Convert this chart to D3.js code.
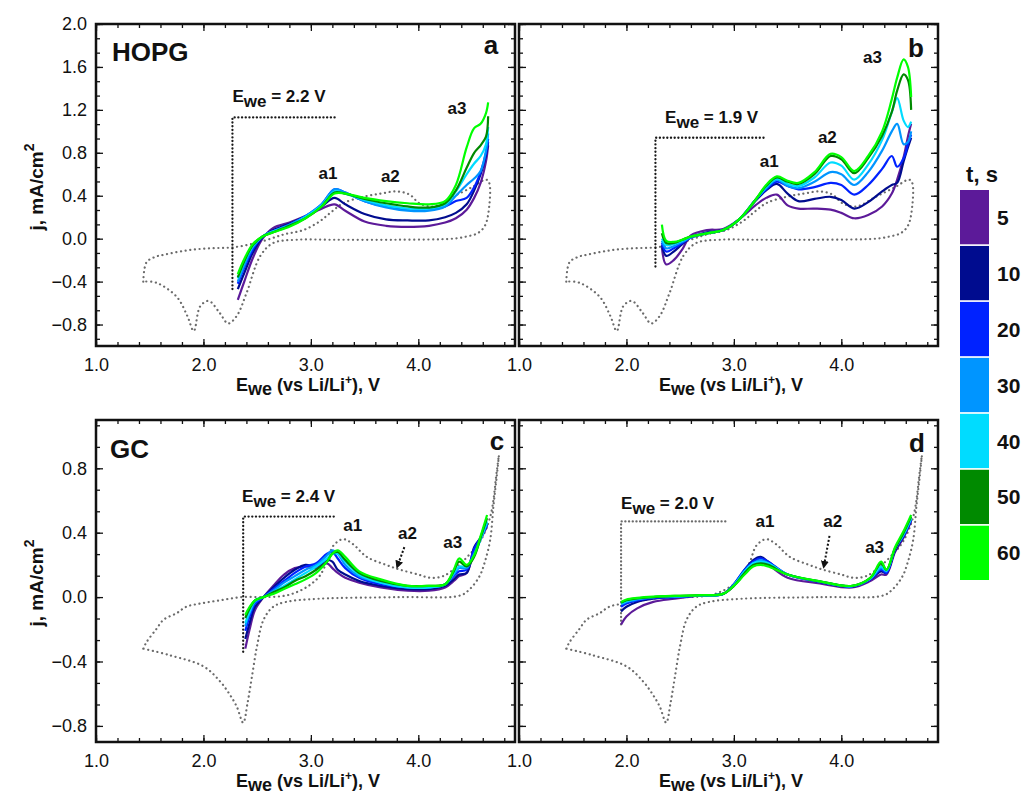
<!DOCTYPE html>
<html>
<head>
<meta charset="utf-8">
<title>CV HOPG / GC</title>
<script src="https://cdn.jsdelivr.net/npm/d3@7"></script>
<style>
  body { margin: 0; background: #fff; }
  svg { font-family: 'Liberation Sans', Arial, sans-serif; }
  .tick line { stroke: #111; stroke-width: 1.3; }
  .tick text { font-size: 18px; fill: #111; }
  .bold { font-weight: bold; fill: #111; }
</style>
</head>
<body>
<svg id="fig" width="1026" height="796"></svg>
<script>
// hold times and their colours
const times = [5, 10, 20, 30, 40, 50, 60];
const colors = ['#5c1a99', '#000c8f', '#0022ff', '#0095ff', '#00dcff', '#008a00', '#00ff00'];

// tick labels
const xLabels = [1.0, 2.0, 3.0, 4.0];
const yLabelsTop = [-0.8, -0.4, 0.0, 0.4, 0.8, 1.2, 1.6, 2.0];
const yLabelsBottom = [-0.8, -0.4, 0.0, 0.4, 0.8];

// reference CV of HOPG (dotted, panels a and b)
const cvHopgE = [1.44, 1.47, 1.55, 1.63, 1.84, 2.05, 2.28, 2.53, 2.75, 2.93, 3.08, 3.18, 3.3, 3.49, 3.65, 3.80, 3.92, 4.01, 4.14, 4.32, 4.5, 4.63, 4.66, 4.66, 4.62, 4.55, 4.45, 4.32, 3.8, 3.2, 2.87, 2.65, 2.53, 2.40, 2.31, 2.23, 2.15, 2.05, 1.97, 1.91, 1.85, 1.75, 1.56, 1.44];
const cvHopgJ = [-0.40, -0.22, -0.17, -0.15, -0.11, -0.09, -0.08, -0.03, 0.04, 0.08, 0.16, 0.24, 0.33, 0.39, 0.42, 0.44, 0.41, 0.33, 0.30, 0.39, 0.48, 0.55, 0.52, 0.30, 0.12, 0.05, 0.02, 0.0, -0.01, -0.01, -0.01, -0.04, -0.16, -0.51, -0.72, -0.79, -0.69, -0.58, -0.63, -0.86, -0.72, -0.54, -0.41, -0.40];

// reference CV of GC (dotted, panels c and d)
const cvGcE = [1.44, 1.47, 1.56, 1.63, 1.75, 1.84, 1.97, 2.15, 2.36, 2.59, 2.77, 2.90, 3.0, 3.08, 3.15, 3.21, 3.30, 3.39, 3.52, 3.7, 3.83, 4.0, 4.11, 4.23, 4.36, 4.47, 4.57, 4.67, 4.73, 4.75, 4.73, 4.70, 4.67, 4.62, 4.57, 4.48, 4.39, 3.83, 3.08, 2.77, 2.65, 2.56, 2.50, 2.45, 2.41, 2.37, 2.31, 2.24, 2.15, 2.0, 1.68, 1.44];
const cvGcJ = [-0.32, -0.28, -0.20, -0.14, -0.10, -0.06, -0.04, -0.02, 0.0, 0.0, 0.01, 0.04, 0.08, 0.13, 0.22, 0.32, 0.36, 0.33, 0.25, 0.20, 0.17, 0.14, 0.12, 0.13, 0.19, 0.26, 0.34, 0.50, 0.78, 0.88, 0.75, 0.57, 0.36, 0.22, 0.13, 0.05, 0.01, 0.0, -0.01, -0.03, -0.06, -0.14, -0.30, -0.50, -0.66, -0.78, -0.68, -0.60, -0.52, -0.43, -0.36, -0.32];

// potential step traces (E, j)
const stepA = [[2.27, -0.47], [2.27, 1.13], [3.25, 1.13]];
const stepB = [[2.27, -0.26], [2.27, 0.94], [3.28, 0.94]];
const stepC = [[2.37, -0.34], [2.37, 0.50], [3.22, 0.50]];
const stepD = [[1.95, -0.17], [1.95, 0.47], [2.93, 0.47]];

// panel a: HOPG, E_we = 2.2 V  (rows: 5,10,20,30,40,50,60 s)
const eA = [2.32, 2.38, 2.46, 2.55, 2.65, 2.8, 2.95, 3.1, 3.22, 3.32, 3.5, 3.7, 3.9, 4.1, 4.25, 4.35, 4.45, 4.52, 4.58, 4.63, 4.65];
const jA = [
  [-0.57, -0.40, -0.18, 0.00, 0.10, 0.15, 0.21, 0.28, 0.32, 0.26, 0.16, 0.12, 0.11, 0.12, 0.15, 0.19, 0.27, 0.38, 0.52, 0.72, 0.87],
  [-0.47, -0.32, -0.13, 0.01, 0.08, 0.14, 0.21, 0.30, 0.38, 0.32, 0.23, 0.18, 0.17, 0.17, 0.20, 0.24, 0.32, 0.45, 0.60, 0.78, 0.90],
  [-0.42, -0.27, -0.10, 0.02, 0.07, 0.13, 0.21, 0.32, 0.46, 0.43, 0.35, 0.30, 0.27, 0.27, 0.30, 0.35, 0.38, 0.48, 0.62, 0.80, 0.93],
  [-0.40, -0.25, -0.08, 0.02, 0.07, 0.13, 0.21, 0.32, 0.46, 0.43, 0.35, 0.29, 0.26, 0.26, 0.30, 0.40, 0.50, 0.56, 0.63, 0.82, 0.98],
  [-0.37, -0.22, -0.07, 0.02, 0.07, 0.12, 0.20, 0.31, 0.44, 0.42, 0.36, 0.31, 0.28, 0.28, 0.32, 0.44, 0.60, 0.70, 0.77, 0.88, 1.04],
  [-0.36, -0.21, -0.06, 0.02, 0.06, 0.12, 0.19, 0.30, 0.43, 0.42, 0.37, 0.33, 0.30, 0.29, 0.33, 0.45, 0.66, 0.80, 0.87, 0.95, 1.14],
  [-0.33, -0.19, -0.05, 0.02, 0.06, 0.11, 0.19, 0.30, 0.42, 0.42, 0.38, 0.35, 0.33, 0.32, 0.35, 0.50, 0.85, 1.03, 1.07, 1.17, 1.27]
];

// panel b: HOPG, E_we = 1.9 V
const eB = [2.33, 2.37, 2.44, 2.52, 2.6, 2.75, 2.9, 3.05, 3.2, 3.3, 3.4, 3.5, 3.6, 3.75, 3.9, 4.0, 4.12, 4.25, 4.38, 4.47, 4.52, 4.58, 4.62, 4.65];
const jB = [
  [-0.08, -0.24, -0.20, -0.10, 0.03, 0.08, 0.09, 0.18, 0.31, 0.38, 0.41, 0.31, 0.28, 0.28, 0.27, 0.24, 0.19, 0.22, 0.30, 0.42, 0.55, 0.76, 0.95, 1.07],
  [-0.06, -0.16, -0.12, -0.05, 0.01, 0.06, 0.08, 0.18, 0.35, 0.45, 0.51, 0.42, 0.35, 0.37, 0.39, 0.36, 0.28, 0.34, 0.44, 0.50, 0.52, 0.72, 0.85, 0.94],
  [-0.04, -0.12, -0.09, -0.04, 0.01, 0.05, 0.08, 0.18, 0.36, 0.46, 0.53, 0.49, 0.46, 0.48, 0.52, 0.50, 0.41, 0.50, 0.65, 0.77, 0.67, 0.75, 0.88, 0.97],
  [-0.02, -0.09, -0.07, -0.03, 0.01, 0.05, 0.08, 0.18, 0.36, 0.47, 0.55, 0.49, 0.47, 0.53, 0.62, 0.60, 0.50, 0.62, 0.82, 1.00, 1.07, 0.88, 0.90, 1.00],
  [0.00, -0.06, -0.05, -0.02, 0.02, 0.05, 0.08, 0.18, 0.36, 0.48, 0.56, 0.51, 0.49, 0.57, 0.71, 0.68, 0.55, 0.69, 0.92, 1.18, 1.31, 1.10, 1.04, 1.09],
  [0.05, -0.04, -0.04, -0.01, 0.02, 0.05, 0.08, 0.18, 0.36, 0.49, 0.57, 0.53, 0.51, 0.60, 0.77, 0.74, 0.61, 0.75, 0.96, 1.18, 1.38, 1.53, 1.48, 1.20],
  [0.13, -0.02, -0.03, -0.01, 0.02, 0.05, 0.08, 0.18, 0.36, 0.50, 0.58, 0.54, 0.52, 0.62, 0.79, 0.76, 0.63, 0.77, 1.00, 1.30, 1.50, 1.67, 1.60, 1.32]
];

// panel c: GC, E_we = 2.4 V
const eC = [2.39, 2.43, 2.48, 2.56, 2.65, 2.75, 2.85, 2.95, 3.05, 3.15, 3.2, 3.25, 3.32, 3.45, 3.65, 3.9, 4.1, 4.25, 4.33, 4.38, 4.45, 4.52, 4.58, 4.64];
const jC = [
  [-0.32, -0.20, -0.08, 0.00, 0.07, 0.14, 0.18, 0.19, 0.18, 0.21, 0.18, 0.15, 0.12, 0.09, 0.06, 0.04, 0.04, 0.06, 0.10, 0.13, 0.15, 0.29, 0.36, 0.44],
  [-0.26, -0.16, -0.06, 0.00, 0.06, 0.12, 0.17, 0.20, 0.19, 0.23, 0.22, 0.17, 0.14, 0.10, 0.07, 0.05, 0.05, 0.07, 0.11, 0.14, 0.15, 0.31, 0.37, 0.45],
  [-0.21, -0.12, -0.04, 0.00, 0.05, 0.10, 0.15, 0.19, 0.21, 0.27, 0.28, 0.24, 0.18, 0.12, 0.08, 0.06, 0.06, 0.08, 0.13, 0.16, 0.17, 0.30, 0.37, 0.45],
  [-0.18, -0.10, -0.03, 0.00, 0.04, 0.09, 0.13, 0.17, 0.20, 0.26, 0.29, 0.27, 0.20, 0.13, 0.09, 0.06, 0.06, 0.08, 0.14, 0.18, 0.18, 0.27, 0.36, 0.46],
  [-0.16, -0.09, -0.02, 0.00, 0.03, 0.07, 0.11, 0.15, 0.19, 0.24, 0.27, 0.27, 0.22, 0.14, 0.09, 0.06, 0.06, 0.08, 0.15, 0.19, 0.19, 0.26, 0.36, 0.47],
  [-0.13, -0.07, -0.02, 0.00, 0.03, 0.06, 0.10, 0.13, 0.17, 0.22, 0.27, 0.28, 0.23, 0.15, 0.10, 0.07, 0.07, 0.08, 0.16, 0.22, 0.19, 0.25, 0.37, 0.49],
  [-0.11, -0.06, -0.02, 0.00, 0.02, 0.05, 0.08, 0.11, 0.15, 0.22, 0.27, 0.29, 0.25, 0.16, 0.11, 0.07, 0.07, 0.08, 0.17, 0.24, 0.20, 0.26, 0.38, 0.51]
];

// panel d: GC, E_we = 2.0 V
const eD = [1.95, 2.0, 2.1, 2.25, 2.45, 2.7, 2.9, 3.0, 3.1, 3.18, 3.25, 3.32, 3.5, 3.8, 4.1, 4.27, 4.37, 4.42, 4.5, 4.58, 4.65];
const jD = [
  [-0.17, -0.12, -0.07, -0.03, -0.01, 0.01, 0.02, 0.07, 0.15, 0.21, 0.22, 0.20, 0.12, 0.085, 0.060, 0.10, 0.14, 0.14, 0.28, 0.37, 0.47],
  [-0.09, -0.06, -0.03, -0.01, 0.00, 0.01, 0.02, 0.08, 0.17, 0.23, 0.25, 0.22, 0.14, 0.095, 0.065, 0.11, 0.16, 0.15, 0.29, 0.38, 0.48],
  [-0.06, -0.04, -0.02, -0.005, 0.00, 0.01, 0.02, 0.08, 0.17, 0.22, 0.24, 0.22, 0.14, 0.095, 0.067, 0.11, 0.17, 0.15, 0.30, 0.38, 0.48],
  [-0.045, -0.03, -0.015, 0.00, 0.005, 0.01, 0.02, 0.075, 0.16, 0.21, 0.23, 0.21, 0.14, 0.097, 0.068, 0.115, 0.18, 0.16, 0.30, 0.39, 0.49],
  [-0.04, -0.025, -0.01, 0.00, 0.005, 0.01, 0.02, 0.075, 0.16, 0.21, 0.22, 0.21, 0.14, 0.097, 0.068, 0.115, 0.19, 0.165, 0.30, 0.39, 0.49],
  [-0.035, -0.02, -0.008, 0.00, 0.008, 0.012, 0.02, 0.07, 0.15, 0.20, 0.21, 0.20, 0.14, 0.098, 0.070, 0.12, 0.21, 0.17, 0.30, 0.40, 0.50],
  [-0.03, -0.015, -0.005, 0.003, 0.008, 0.012, 0.02, 0.07, 0.14, 0.19, 0.20, 0.19, 0.14, 0.098, 0.070, 0.12, 0.22, 0.17, 0.31, 0.41, 0.51]
];

const W = 419, H = 322;
const svg = d3.select('#fig');

svg.append('defs').append('marker')
  .attr('id', 'arrow').attr('viewBox', '0 0 10 10')
  .attr('refX', 5).attr('refY', 5)
  .attr('markerWidth', 4).attr('markerHeight', 4)
  .attr('orient', 'auto-start-reverse')
  .append('path').attr('d', 'M0,0 L10,5 L0,10 z').attr('fill', '#111');

const panels = [
  { name: 'a', sub: 'HOPG', left: 96, top: 24, yDom: [-1.0, 2.0], yLab: yLabelsTop, k: [-7, 15],
    E: eA, J: jA, cvE: cvHopgE, cvJ: cvHopgJ, step: stepA, stepCol: '#1a1a1a', ewe: '2.2', ewePos: [2.27, 1.27],
    peaks: [['a1', 3.16, 0.61], ['a2', 3.74, 0.58], ['a3', 4.36, 1.22]], letterPos: [491, 54], subPos: [112, 61] },
  { name: 'b', left: 519, top: 24, yDom: [-1.0, 2.0], yLab: null, k: [-7, 15],
    E: eB, J: jB, cvE: cvHopgE, cvJ: cvHopgJ, step: stepB, stepCol: '#1a1a1a', ewe: '1.9', ewePos: [2.36, 1.08],
    peaks: [['a1', 3.33, 0.72], ['a2', 3.87, 0.95], ['a3', 4.29, 1.69]], letterPos: [916, 57] },
  { name: 'c', sub: 'GC', left: 96, top: 420, yDom: [-0.9, 1.1], yLab: yLabelsBottom, k: [-6, 8],
    E: eC, J: jC, cvE: cvGcE, cvJ: cvGcJ, step: stepC, stepCol: '#1a1a1a', ewe: '2.4', ewePos: [2.36, 0.59],
    peaks: [['a1', 3.39, 0.45], ['a2', 3.90, 0.40], ['a3', 4.32, 0.34]], arrow: [[3.87, 0.31], [3.81, 0.20]],
    letterPos: [497, 450], subPos: [110, 458] },
  { name: 'd', left: 519, top: 420, yDom: [-0.9, 1.1], yLab: null, k: [-6, 8],
    E: eD, J: jD, cvE: cvGcE, cvJ: cvGcJ, step: stepD, stepCol: '#6b6b6b', ewe: '2.0', ewePos: [1.95, 0.55],
    peaks: [['a1', 3.29, 0.47], ['a2', 3.92, 0.47], ['a3', 4.31, 0.31]], arrow: [[3.89, 0.38], [3.84, 0.20]],
    letterPos: [917, 452] }
];

const xMinor = d3.range(5, 25).map(k => k / 5);

panels.forEach(p => {
  const g = svg.append('g');
  const x = d3.scaleLinear().domain([1.0, 4.9]).range([p.left, p.left + W]);
  const y = d3.scaleLinear().domain(p.yDom).range([p.top + H, p.top]);
  const yMinor = d3.range(p.k[0], p.k[1] + 1).map(k => Math.round(k * 0.4 / 3 * 1000) / 1000);
  const yMajor = yMinor.filter(v => Math.abs(Math.round(v / 0.4) * 0.4 - v) < 1e-6);

  const smooth = d3.line().x(d => x(d[0])).y(d => y(d[1])).curve(d3.curveCatmullRom.alpha(0.5));
  const straight = d3.line().x(d => x(d[0])).y(d => y(d[1]));

  // reference CV
  g.append('path').datum(d3.zip(p.cvE, p.cvJ)).attr('d', smooth)
    .attr('fill', 'none').attr('stroke', '#6b6b6b').attr('stroke-width', 2.2)
    .attr('stroke-linecap', 'round').attr('stroke-dasharray', '0.1 4.6');

  // potential step
  g.append('path').datum(p.step).attr('d', straight)
    .attr('fill', 'none').attr('stroke', p.stepCol).attr('stroke-width', 2.3)
    .attr('stroke-linecap', 'round').attr('stroke-dasharray', '0.1 3.6');

  // currents for each hold time
  p.J.forEach((js, i) => {
    g.append('path').datum(d3.zip(p.E, js)).attr('d', smooth)
      .attr('fill', 'none').attr('stroke', colors[i]).attr('stroke-width', 2.2);
  });

  // axes, ticks inward on all four sides
  const axes = [
    [d3.axisBottom, x, p.top + H, 'x'], [d3.axisTop, x, p.top, 'x'],
    [d3.axisLeft, y, p.left, 'y'], [d3.axisRight, y, p.left + W, 'y']
  ];
  axes.forEach(([mk, sc, off, dim], n) => {
    const tr = dim === 'x' ? `translate(0,${off})` : `translate(${off},0)`;
    g.append('g').attr('transform', tr)
      .call(mk(sc).tickValues(dim === 'x' ? xMinor : yMinor).tickSize(-4).tickFormat(''))
      .call(s => s.select('.domain').remove());
    let vals = dim === 'x' ? xLabels : yMajor;
    let fmt = () => '';
    if (n === 0) fmt = d3.format('.1f');
    if (n === 2 && p.yLab) { fmt = d3.format('.1f'); vals = p.yLab; }
    g.append('g').attr('transform', tr)
      .call(mk(sc).tickValues(vals).tickSize(-7).tickPadding(n === 0 ? 12 : 9).tickFormat(fmt))
      .call(s => s.select('.domain').remove());
  });

  g.append('rect').attr('x', p.left).attr('y', p.top).attr('width', W).attr('height', H)
    .attr('fill', 'none').attr('stroke', '#111').attr('stroke-width', 2.5);

  // peak labels
  p.peaks.forEach(([t, e, j]) => {
    g.append('text').attr('class', 'bold').attr('x', x(e)).attr('y', y(j)).attr('dy', '0.35em')
      .attr('text-anchor', 'middle').attr('font-size', 17).text(t);
  });
  if (p.arrow) {
    g.append('path').datum(p.arrow).attr('d', straight).attr('fill', 'none')
      .attr('stroke', '#111').attr('stroke-width', 2).attr('stroke-dasharray', '2 2')
      .attr('marker-end', 'url(#arrow)');
  }

  // E_we label
  const ew = g.append('text').attr('class', 'bold').attr('font-size', 17)
    .attr('x', x(p.ewePos[0])).attr('y', y(p.ewePos[1]));
  ew.append('tspan').text('E');
  ew.append('tspan').attr('dy', 5).text('we');
  ew.append('tspan').attr('dy', -5).text(` = ${p.ewe} V`);

  // panel letter and electrode name
  g.append('text').attr('class', 'bold').attr('font-size', 26).attr('text-anchor', 'middle')
    .attr('x', p.letterPos[0]).attr('y', p.letterPos[1]).text(p.name);
  if (p.sub) {
    g.append('text').attr('class', 'bold').attr('font-size', 26)
      .attr('x', p.subPos[0]).attr('y', p.subPos[1]).text(p.sub);
  }

  // x title
  const xt = g.append('text').attr('class', 'bold').attr('font-size', 18).attr('text-anchor', 'middle')
    .attr('x', p.left + 212).attr('y', p.top + H + 45);
  xt.append('tspan').text('E');
  xt.append('tspan').attr('dy', 4).text('we');
  xt.append('tspan').attr('dy', -4).text(' (vs Li/Li');
  xt.append('tspan').attr('dy', -7).attr('font-size', 12).text('+');
  xt.append('tspan').attr('dy', 7).text('), V');

  // y title
  if (p.yLab) {
    const yt = g.append('text').attr('class', 'bold').attr('font-size', 19).attr('text-anchor', 'middle')
      .attr('transform', `translate(43,${p.top + H / 2 + 2}) rotate(-90)`);
    yt.append('tspan').text('j, mA/cm');
    yt.append('tspan').attr('dy', -9).attr('font-size', 14).text('2');
  }
});

// legend
const lg = d3.scaleBand().domain(times).range([190, 580]).paddingInner(0.03);
svg.append('text').attr('class', 'bold').attr('font-size', 22).attr('text-anchor', 'middle')
  .attr('x', 982).attr('y', 182).text('t, s');
svg.selectAll('.sw').data(times).join('rect').attr('class', 'sw')
  .attr('x', 960).attr('y', d => lg(d)).attr('width', 29).attr('height', lg.bandwidth())
  .attr('fill', (d, i) => colors[i]);
svg.selectAll('.lgl').data(times).join('text').attr('class', 'lgl bold')
  .attr('x', 997).attr('y', d => lg(d) + lg.bandwidth() / 2).attr('dy', '0.36em')
  .attr('font-size', 21).text(d => d);
</script>
</body>
</html>
